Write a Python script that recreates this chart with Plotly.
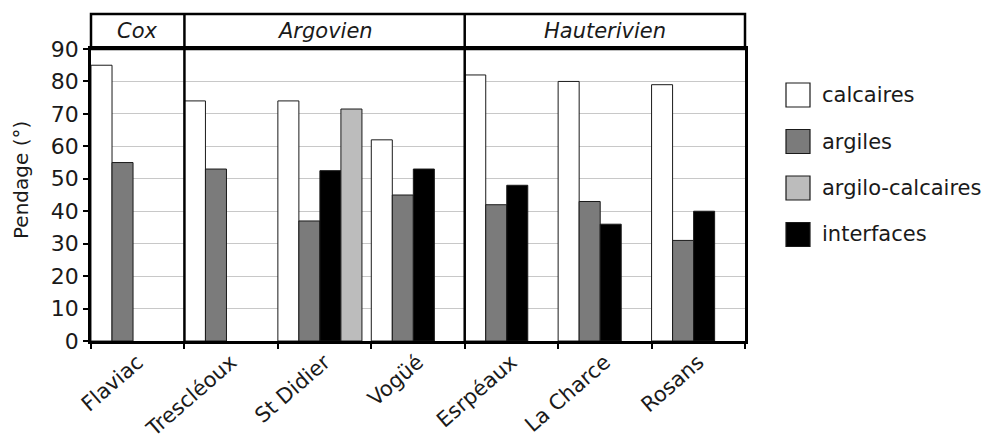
import plotly.graph_objects as go

# ---------------- data ----------------
sites = ["Flaviac", "Trescléoux", "St Didier", "Vogüé", "Esrpéaux", "La Charce", "Rosans"]
calcaires = [85, 74, 74, 62, 82, 80, 79]
argiles = [55, 53, 37, 45, 42, 43, 31]
interfaces = [None, None, 52.5, 53, 48, 36, 40]
argilo_calcaires = [None, None, 71.5, None, None, None, None]

stages = ["Cox", "Argovien", "Hauterivien"]
stage_first = ["Flaviac", "Trescléoux", "Esrpéaux"]
stage_last = ["Flaviac", "Vogüé", "Rosans"]

y_ticks = [0, 10, 20, 30, 40, 50, 60, 70, 80, 90]

legend_names = ["calcaires", "argiles", "argilo-calcaires", "interfaces"]
legend_colors = ["#ffffff", "#7b7b7b", "#bcbcbc", "#000000"]

# ---------------- layout constants (page px) ----------------
W, H = 997, 442
OFF = 8  # default body margin of the html page
L, R, T, B = 91, 745, 49, 341  # plot area edges in page pixels
HEADER_TOP = 14
FONT = "DejaVu Sans, Verdana, sans-serif"
TXT = "#1a1a1a"

def px_x(p):
    return (p - L) / (R - L)

def px_y(p):
    return (B - p) / (B - T)

bw = 0.225
series = [
    ("calcaires", calcaires, "#ffffff"),
    ("argiles", argiles, "#7b7b7b"),
    ("interfaces", interfaces, "#000000"),
    ("argilo-calcaires", argilo_calcaires, "#bcbcbc"),
]

fig = go.Figure()
for k, (name, vals, col) in enumerate(series):
    fig.add_trace(go.Bar(
        x=sites, y=vals, name=name,
        marker=dict(color=col, line=dict(color="#1a1a1a", width=1)),
        width=bw, offset=-0.5 + k * bw,
        showlegend=False,
    ))

shapes = []
annotations = []
n = len(sites)
# header box
shapes.append(dict(type="rect", xref="paper", yref="paper",
                   x0=0, x1=1, y0=1, y1=px_y(HEADER_TOP),
                   line=dict(color="black", width=2.5), fillcolor="rgba(0,0,0,0)"))
# stage dividers (through plot and header)
for s_last in stage_last[:-1]:
    i = sites.index(s_last)
    shapes.append(dict(type="line", xref="x", yref="paper",
                       x0=i + 0.5, x1=i + 0.5, y0=0, y1=px_y(HEADER_TOP),
                       line=dict(color="black", width=2.5)))
# stage labels
for st, a, b in zip(stages, stage_first, stage_last):
    ia, ib = sites.index(a), sites.index(b)
    annotations.append(dict(x=(ia + ib) / 2, y=(1 + px_y(HEADER_TOP)) / 2,
                            xref="x", yref="paper", text="<i>%s</i>" % st,
                            showarrow=False, xanchor="center", yanchor="middle",
                            font=dict(family=FONT, size=21, color=TXT)))

# y axis title
annotations.append(dict(x=px_x(21), y=px_y(180), xref="paper", yref="paper",
                        text="Pendage (°)", textangle=-90, showarrow=False,
                        xanchor="center", yanchor="middle",
                        font=dict(family=FONT, size=20, color=TXT)))

# custom legend
for j, (nm, col) in enumerate(zip(legend_names, legend_colors)):
    top = 83 + j * 46.5
    shapes.append(dict(type="rect", xref="paper", yref="paper",
                       x0=px_x(786), x1=px_x(810), y0=px_y(top + 24), y1=px_y(top),
                       fillcolor=col, line=dict(color="#1a1a1a", width=1.2)))
    annotations.append(dict(x=px_x(820), y=px_y(top + 12), xref="paper", yref="paper",
                            text=nm, showarrow=False, xanchor="left", yanchor="middle",
                            font=dict(family=FONT, size=21, color=TXT)))

fig.update_layout(
    width=W, height=H,
    margin=dict(l=L - OFF, r=W - R + OFF, t=T - OFF, b=H - B + OFF, pad=0),
    paper_bgcolor="white", plot_bgcolor="white",
    barmode="group",
    font=dict(family=FONT, color=TXT),
    shapes=shapes, annotations=annotations,
    xaxis=dict(
        type="category", categoryorder="array", categoryarray=sites,
        range=[-0.5, n - 0.5], automargin=False,
        showline=True, linecolor="black", linewidth=2.5, mirror=True,
        ticks="outside", tickson="boundaries", ticklen=5, tickwidth=2, tickcolor="black",
        tickangle=-41, tickfont=dict(family=FONT, size=21, color=TXT),
        ticklabelstandoff=-2,
        showgrid=False, zeroline=False,
    ),
    yaxis=dict(
        range=[0, 90], tickvals=y_ticks, automargin=False,
        showline=True, linecolor="black", linewidth=2.5, mirror=True,
        ticks="outside", ticklen=5, tickwidth=2, tickcolor="black",
        tickfont=dict(family=FONT, size=22, color=TXT),
        showgrid=True, gridcolor="#c8c8c8", gridwidth=1,
        zeroline=False,
    ),
)

fig.write_html("out.html")
